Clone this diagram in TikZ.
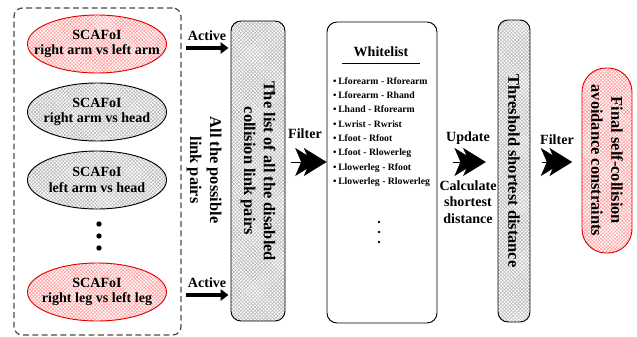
\documentclass[tikz,border=0pt]{standalone}
\usepackage{fontspec}
\setmainfont{Liberation Serif}
\usetikzlibrary{positioning,arrows.meta,shapes.geometric,patterns}

\begin{document}
\begin{tikzpicture}[x=0.03cm, y=-0.03cm,
    pair/.style={ellipse, draw, line width=0.8pt, minimum width=4.17cm,
                 minimum height=1.74cm, inner sep=0pt,
                 pattern=crosshatch, pattern color=black!30},
    pairtxt/.style={align=center, inner sep=0pt,
                    font=\fontsize{12}{13.3}\selectfont\bfseries},
    hot/.style={draw=red!90!black, pattern color=red!40},
    hatchbox/.style={draw, line width=0.8pt, rounded corners=0.3cm,
                 pattern=crosshatch, pattern color=black!30},
    vtext/.style={rotate=-90, align=center,
                  font=\fontsize{14}{17}\selectfont\bfseries},
    lbl/.style={font=\fontsize{12}{14.2}\selectfont\bfseries, align=center},
    activearrow/.style={line width=3.5pt, -{Triangle[length=2.4mm,width=3.4mm]}},
    ffarrow/.style={line width=0.4pt,
                    -{Stealth[length=6.8mm,width=8.4mm,inset=1.8mm,sep=-4.2mm]
                      Stealth[length=6.8mm,width=8.4mm,inset=1.8mm]}}
]
\useasboundingbox (0,0) rectangle (637,337);

% Group of candidate pairs
\node[draw=black!70, dashed, dash pattern=on 5pt off 3pt, line width=1.1pt,
      rounded corners=0.25cm, minimum width=5.01cm, minimum height=9.81cm]
      (grp) at (97.5,171.5) {};

\node[pair, hot, label={[pairtxt]center:SCAFoI\\right arm vs left arm}] (e1) at (97,44) {};
\node[pair, label={[pairtxt]center:SCAFoI\\right arm vs head}] (e2) at (97,112) {};
\node[pair, label={[pairtxt]center:SCAFoI\\left arm vs head}] (e3) at (97,180) {};
\node[pair, hot, label={[pairtxt]center:SCAFoI\\right leg vs left leg}] (e4) at (97,292) {};

% vertical dots
\foreach \y in {224,236,248}
    \fill (99,\y) circle (2.7);

\node[vtext] (allpairs) at (204,170) {All the possible\\link pairs};

% Disabled list
\node[hatchbox, minimum width=1.62cm, minimum height=9cm] (list) at (258,171) {};
\node[vtext] (listtxt) at (list.center) {The list of all the disabled\\collision link pairs};

% Whitelist
\node[draw, line width=0.8pt, rounded corners=0.3cm,
      minimum width=3.3cm, minimum height=9.03cm] (white) at (382,172.5) {};
\node[font=\fontsize{12}{14}\selectfont\bfseries] (wtitle) at (381,52) {Whitelist};
\draw[line width=0.7pt] (342,63) -- (420,63);
\node[anchor=west, align=left, inner sep=0pt,
      font=\fontsize{8.3}{12.2}\selectfont\bfseries] (witems) at (333,132)
    {\textbullet\,Lforearm - Rforearm\\
     \textbullet\,Lforearm - Rhand\\
     \textbullet\,Lhand - Rforearm\\
     \textbullet\,Lwrist - Rwrist\\
     \textbullet\,Lfoot - Rfoot\\
     \textbullet\,Lfoot - Rlowerleg\\
     \textbullet\,Llowerleg - Rfoot\\
     \textbullet\,Llowerleg - Rlowerleg};
\foreach \y in {222,232,242}
    \fill (379,\y) circle (1.3);

% Threshold
\node[hatchbox, minimum width=0.96cm, minimum height=9.06cm] (thr) at (514,171) {};
\node[vtext] (thrtxt) at (thr.center) {Threshold shortest distance};

% Final constraints
\node[hatchbox, hot, rounded corners=0.72cm,
      minimum width=1.5cm, minimum height=5.55cm] (final) at (607,160.5) {};
\node[vtext] (finaltxt) at (final.center) {Final self-collision\\avoidance constraints};

% Arrows
\coordinate (row) at (0,162);
\draw[activearrow] ([shift={(4,4)}]grp.east |- e1.center)
    -- node[lbl, above=1pt] (act1) {Active} ([shift={(-2,4)}]list.west |- e1.center);
\draw[activearrow] ([shift={(4,3)}]grp.east |- e4.center)
    -- node[lbl, above=1pt] (act2) {Active} ([shift={(-2,3)}]list.west |- e4.center);

\draw[ffarrow] ([xshift=5]list.east |- row) -- (white.west |- row);
\node[lbl] (filt1) at (305,134) {Filter};

\draw[ffarrow] ([xshift=13]white.east |- row) -- ([xshift=-10]thr.west |- row);
\node[lbl] (upd) at (468,138) {Update};
\node[lbl] (calc) at (468,202) {Calculate\\shortest\\distance};

\draw[ffarrow] ([xshift=10]thr.east |- row) -- ([xshift=-8]final.west |- row);
\node[lbl] (filt2) at (557,140) {Filter};

\end{tikzpicture}
\end{document}
